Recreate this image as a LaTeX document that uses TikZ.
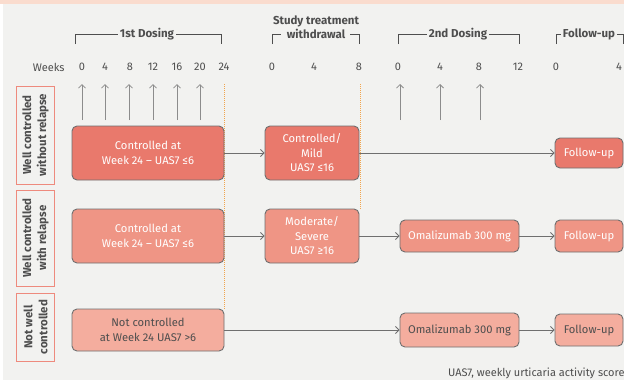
\documentclass[tikz,border=0pt]{standalone}
\usepackage{fontspec}
\setmainfont{Fira Sans}
\usepackage{tikz}
\usetikzlibrary{arrows.meta,positioning}
\definecolor{stripPeach}{HTML}{FADCCE}
\definecolor{panelGrey}{HTML}{F2F2F0}
\definecolor{inkGrey}{HTML}{4E4E4E}
\definecolor{lineGrey}{HTML}{6F6F6F}
\definecolor{tickGrey}{HTML}{8C8C8C}
\definecolor{cutOrange}{HTML}{F2A54C}
\definecolor{salmonDark}{HTML}{E9796C}
\definecolor{salmonMid}{HTML}{EF9585}
\definecolor{salmonLight}{HTML}{F4AD9E}
\definecolor{labelRim}{HTML}{EE8A7D}

\begin{document}
\begin{tikzpicture}[x=1pt,y=-1pt,
    >={Straight Barb[length=3.5pt,width=7pt]},
    box/.style={draw=lineGrey,line width=0.9pt,rounded corners=5pt,align=center,
      inner sep=0pt,font=\fontsize{11.2}{14.5}\selectfont},
    dark/.style={box,fill=salmonDark,text=white},
    mid/.style={box,fill=salmonMid,text=white},
    light/.style={box,fill=salmonLight,text=inkGrey},
    rowlab/.style={draw=labelRim,line width=0.9pt,rotate=90,align=center,inner sep=0pt,
      minimum height=38pt,text=inkGrey,font=\bfseries\fontsize{11.5}{15}\selectfont},
    head/.style={text=inkGrey,font=\bfseries\fontsize{11.5}{14}\selectfont,align=center,inner sep=2pt},
    wk/.style={text=inkGrey,font=\fontsize{11}{12}\selectfont},
    bracket/.style={draw=inkGrey,line width=0.8pt},
    flow/.style={->,draw=lineGrey,line width=0.8pt},
    dose/.style={->,draw=tickGrey,line width=0.8pt},
    cut/.style={draw=cutOrange,line width=1pt,densely dotted}]
      \useasboundingbox (0,0) rectangle (624,381);
      \clip (0,0) rectangle (624,381);
      \fill[panelGrey] (3,4) rectangle (624,380);
      \fill[stripPeach] (0,0) rectangle (624,4);
      % phase headers
      \node[head] (dose1) at (147,34) {1st Dosing};
      \node[head] (wdraw) at (316,27) {Study treatment\\withdrawal};
      \node[head] (dose2) at (458,34) {2nd Dosing};
      \node[head] (fup) at (589,34) {Follow-up};
      \draw[bracket] (75,44) |- (dose1.west);
      \draw[bracket] (dose1.east) -| (221,44);
      \draw[bracket] (272,44) |- (281,34);
      \draw[bracket] (350,34) -| (359,44);
      \draw[bracket] (398,44) |- (dose2.west);
      \draw[bracket] (dose2.east) -| (519,44);
      \draw[bracket] (556,44) |- (fup.west);
      \draw[bracket] (fup.east) -| (623,44);
      % week scale
      \node[wk,anchor=east] (weeks) at (68,67) {Weeks};
      \foreach \x/\lab in {82/0,105/4,130/8,153/12,177/16,200/20,224/24,
                          272/0,314/4,359/8,398/0,440/4,479/8,518/12,556/0,619/4}{
        \node[wk] (wk-\x) at (\x,67) {\lab};
      }
      \foreach \x in {82,105,129,153,177,200,400,440,480}{
        \draw[dose] (\x,120) -- (\x,84);
      }
      \draw[cut] (224,84) -- (224,309);
      \draw[cut] (360,84) -- (360,209);
      % row labels
      \node[rowlab,minimum width=98pt] (lab1) at (35.5,135) {Well controlled\\without relapse};
      \node[rowlab,minimum width=96pt] (lab2) at (35.5,238) {Well controlled\\with relapse};
      \node[rowlab,minimum width=68pt] (lab3) at (35.5,327) {Not well\\controlled};
      % well controlled without relapse
      \node[dark,minimum width=152pt,minimum height=54pt] (r1a) at (148,153) {Controlled at\\Week 24 -- UAS7 ≤6};
      \node[dark,minimum width=94pt,minimum height=54pt] (r1b) at (312,153) {Controlled/\\Mild\\UAS7 ≤16};
      \node[dark,minimum width=68pt,minimum height=30pt] (r1f) at (589,153) {Follow-up};
      % well controlled with relapse
      \node[mid,minimum width=152pt,minimum height=54pt] (r2a) at (148,236) {Controlled at\\Week 24 -- UAS7 ≤6};
      \node[mid,minimum width=94pt,minimum height=54pt] (r2b) at (312,236) {Moderate/\\Severe\\UAS7 ≥16};
      \node[mid,minimum width=119pt,minimum height=32pt] (r2o) at (459.5,236) {Omalizumab 300 mg};
      \node[mid,minimum width=68pt,minimum height=32pt] (r2f) at (589,236) {Follow-up};
      % not well controlled
      \node[light,minimum width=152pt,minimum height=42pt] (r3a) at (148,330) {Not controlled\\at Week 24 UAS7 >6};
      \node[light,minimum width=119pt,minimum height=34pt] (r3o) at (459.5,330) {Omalizumab 300 mg};
      \node[light,minimum width=68pt,minimum height=32pt] (r3f) at (589,330) {Follow-up};
      \draw[flow] (r1a) -- (r1b);
      \draw[flow] (r1b) -- (r1f);
      \draw[flow] (r2a) -- (r2b);
      \draw[flow] (r2b) -- (r2o);
      \draw[flow] (r2o) -- (r2f);
      \draw[flow] (r3a) -- (r3o);
      \draw[flow] (r3o) -- (r3f);
      \node[anchor=west,text=inkGrey,font=\fontsize{11}{12}\selectfont,inner sep=0pt] (note) at (448,373) {UAS7, weekly urticaria activity score};
    \end{tikzpicture}
\end{document}
